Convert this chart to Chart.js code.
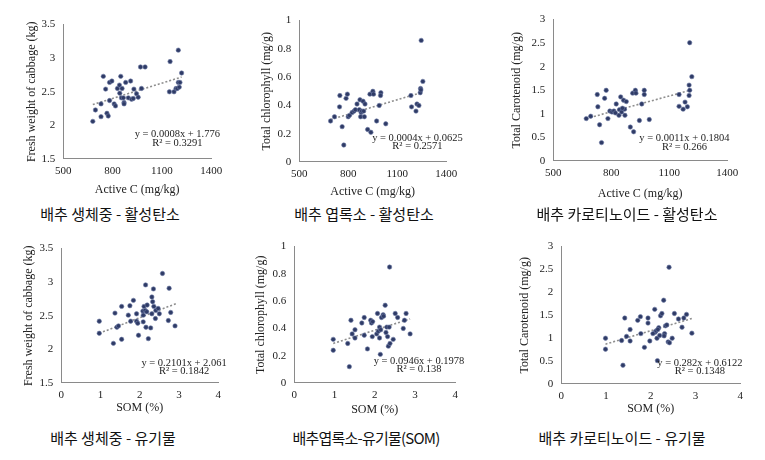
<!DOCTYPE html>
<html>
<head>
<meta charset="utf-8">
<script src="https://cdn.jsdelivr.net/npm/chart.js@4.4.1/dist/chart.umd.min.js"></script>
<style>
  body { margin: 0; background: #fff; width: 765px; height: 460px; position: relative; overflow: hidden; }
  .box { position: absolute; }
  .cap { position: absolute; font-family: "Noto Sans CJK KR"; font-size: 15px; font-weight: 400; color: #111; white-space: nowrap; transform: translateX(-50%); }
</style>
</head>
<body>
<script>
// ---- data ----
// active carbon (mg/kg) vs fresh weight
let p1x = [680,696,730,730,744,758,766,774,782,782,796,810,818,830,842,844,850,854,858,866,870,870,880,896,910,916,926,930,946,956,970,976,998,1146,1150,1174,1186,1194,1200,1200,1206,1210,1220];
let p1y = [2.06,2.23,2.32,2.13,2.73,2.54,2.18,2.14,2.37,2.64,2.66,2.32,2.29,2.55,2.60,2.48,2.73,2.41,2.55,2.41,2.34,2.32,2.64,2.41,2.66,2.39,2.40,2.54,2.47,2.42,2.87,2.55,2.87,2.50,2.95,2.50,2.55,2.55,3.12,2.64,2.57,2.64,2.78];
// active carbon vs chlorophyll
let p2x = [692,716,747,749,763,773,787,795,800,808,824,836,844,854,868,872,876,879,883,891,895,899,903,919,939,933,951,955,974,990,1000,998,1030,1188,1184,1215,1221,1233,1241,1243,1245,1247,1257];
let p2y = [0.29,0.32,0.39,0.47,0.25,0.12,0.45,0.48,0.32,0.33,0.35,0.36,0.37,0.41,0.37,0.44,0.32,0.35,0.36,0.43,0.36,0.32,0.41,0.23,0.21,0.48,0.50,0.48,0.29,0.40,0.49,0.47,0.27,0.39,0.47,0.36,0.41,0.40,0.49,0.52,0.51,0.86,0.57];
// active carbon vs carotenoid
let p3x = [671,694,728,731,740,750,766,774,783,793,804,814,826,840,843,849,854,864,869,871,878,899,916,911,925,928,946,958,971,971,997,1151,1151,1172,1182,1194,1203,1203,1206,1206,1217,858,822];
let p3y = [0.90,0.95,1.41,1.15,0.77,0.39,1.33,1.50,0.90,1.06,1.04,1.06,1.21,0.97,1.09,1.36,1.04,1.29,1.10,0.97,1.26,0.72,0.62,1.44,1.50,1.44,0.86,1.21,1.50,1.41,0.88,1.41,1.16,1.10,1.25,1.15,1.61,1.39,1.50,2.51,1.79,1.12,1.02];
// SOM (%) vs fresh weight
let p4x = [0.97,0.97,1.33,1.37,1.42,1.46,1.54,1.54,1.71,1.75,1.77,1.84,1.92,1.92,1.95,1.97,2.08,2.09,2.09,2.11,2.14,2.15,2.16,2.18,2.19,2.22,2.28,2.31,2.31,2.33,2.35,2.36,2.40,2.41,2.47,2.50,2.58,2.73,2.75,2.79,2.90];
let p4y = [2.42,2.24,2.09,2.54,2.33,2.35,2.64,2.15,2.51,2.65,2.42,2.73,2.53,2.42,2.39,2.21,2.57,2.51,2.41,2.64,2.58,2.96,2.33,2.56,2.66,2.16,2.32,2.78,2.53,2.71,2.90,2.64,2.46,2.58,2.61,2.53,3.13,2.43,2.91,2.55,2.35];
// SOM vs chlorophyll
let p5x = [0.97,0.97,1.33,1.37,1.41,1.44,1.51,1.51,1.68,1.74,1.74,1.82,1.90,1.92,1.94,1.95,2.05,2.07,2.09,2.12,2.12,2.14,2.15,2.17,2.21,2.22,2.26,2.28,2.30,2.32,2.34,2.36,2.37,2.38,2.46,2.51,2.57,2.71,2.74,2.78,2.88];
let p5y = [0.32,0.24,0.29,0.12,0.46,0.36,0.33,0.39,0.44,0.48,0.35,0.25,0.46,0.44,0.34,0.45,0.36,0.51,0.38,0.41,0.33,0.21,0.39,0.48,0.50,0.49,0.57,0.37,0.41,0.34,0.27,0.41,0.85,0.29,0.32,0.51,0.48,0.40,0.46,0.51,0.36];
// SOM vs carotenoid
let p6x = [0.99,0.99,1.35,1.38,1.42,1.46,1.54,1.54,1.71,1.77,1.78,1.86,1.94,1.94,1.98,2.09,2.10,2.14,2.15,2.18,2.20,2.22,2.25,2.29,2.31,2.33,2.36,2.39,2.41,2.42,2.48,2.53,2.62,2.70,2.74,2.80,2.92,2.12,2.16,2.30,2.05];
let p6y = [1.00,0.76,0.95,0.41,1.44,1.04,1.19,0.94,1.39,1.47,1.10,0.80,1.44,1.33,0.94,1.63,1.13,1.00,0.51,1.23,1.06,1.49,1.54,1.83,1.10,1.27,1.29,0.92,2.55,0.90,1.00,1.54,1.42,1.24,1.44,1.52,1.11,1.16,1.19,1.05,1.10];

// trendline end points (x0, y0, x1, y1)
let trend1 = [680, 2.31, 1220, 2.72];
let trend2 = [692, 0.30, 1245, 0.49];
let trend3 = [671, 0.90, 1217, 1.51];
let trend4 = [0.97, 2.24, 2.92, 2.68];
let trend5 = [0.97, 0.29, 2.88, 0.47];
let trend6 = [0.99, 0.87, 2.92, 1.43];

let equations = [
  ['y = 0.0008x + 1.776', 'R² = 0.3291'],
  ['y = 0.0004x + 0.0625', 'R² = 0.2571'],
  ['y = 0.0011x + 0.1804', 'R² = 0.266'],
  ['y = 0.2101x + 2.061', 'R² = 0.1842'],
  ['y = 0.0946x + 0.1978', 'R² = 0.138'],
  ['y = 0.282x + 0.6122', 'R² = 0.1348']
];

let ticksActiveC = [500, 800, 1100, 1400];
let ticksSom = [0, 1, 2, 3, 4];
let ticksWeight = [1.5, 2, 2.5, 3, 3.5];
let ticksChl = [0, 0.2, 0.4, 0.6, 0.8, 1];
let ticksCar = [0, 0.5, 1, 1.5, 2, 2.5, 3];

let captions = [
  '배추 생체중 - 활성탄소', '배추 엽록소 - 활성탄소', '배추 카로티노이드 - 활성탄소',
  '배추 생체중 - 유기물', '배추엽록소-유기물(SOM)', '배추 카로티노이드 - 유기물'
];

// ---- layout of the six panels (plot area in page pixels) ----
let panels = [
  { xs: p1x, ys: p1y, tr: trend1, xt: ticksActiveC, yt: ticksWeight, xTitle: 'Active C (mg/kg)', yTitle: 'Fresh weight of cabbage (kg)',
    area: [63, 18, 212, 159], yOff: 31, xOff: 31, eq: [1194, 1.87, 1.74] },
  { xs: p2x, ys: p2y, tr: trend2, xt: ticksActiveC, yt: ticksChl, xTitle: 'Active C (mg/kg)', yTitle: 'Total chlorophyll (mg/g)',
    area: [299, 14, 447, 162], yOff: 32, xOff: 30, eq: [1224, 0.17, 0.11] },
  { xs: p3x, ys: p3y, tr: trend3, xt: ticksActiveC, yt: ticksCar, xTitle: 'Active C (mg/kg)', yTitle: 'Total Carotenoid (mg/g)',
    area: [553, 13, 728, 161], yOff: 36, xOff: 33, eq: [1179, 0.48, 0.30] },
  { xs: p4x, ys: p4y, tr: trend4, xt: ticksSom, yt: ticksWeight, xTitle: 'SOM (%)', yTitle: 'Fresh weight of cabbage (kg)',
    area: [61, 242, 218, 383], yOff: 32, xOff: 25, eq: [3.13, 1.80, 1.68] },
  { xs: p5x, ys: p5y, tr: trend5, xt: ticksSom, yt: ticksChl, xTitle: 'SOM (%)', yTitle: 'Total chlorophyll (mg/g)',
    area: [294, 240, 455, 383], yOff: 33, xOff: 27, eq: [3.1, 0.16, 0.10] },
  { xs: p6x, ys: p6y, tr: trend6, xt: ticksSom, yt: ticksCar, xTitle: 'SOM (%)', yTitle: 'Total Carotenoid (mg/g)',
    area: [561, 240, 740, 384], yOff: 36, xOff: 25, eq: [3.1, 0.46, 0.27] }
];
let capPos = [[110, 203], [364, 203], [627, 203], [113, 427], [366, 427], [622, 427]];

const serif = 'Liberation Serif';
const padTop = 8, padRight = 16;

// writes the regression equation on the plot
const eqPlugin = {
  id: 'eq',
  afterDatasetsDraw(chart, args, opts) {
    const ctx = chart.ctx;
    const xs = chart.scales.x, ys = chart.scales.y;
    ctx.save();
    ctx.font = '10.5px "' + serif + '"';
    ctx.fillStyle = '#222';
    ctx.textAlign = 'center';
    ctx.textBaseline = 'middle';
    ctx.fillText(opts.lines[0], xs.getPixelForValue(opts.pos[0]), ys.getPixelForValue(opts.pos[1]));
    ctx.fillText(opts.lines[1], xs.getPixelForValue(opts.pos[0]), ys.getPixelForValue(opts.pos[2]));
    ctx.restore();
  }
};

panels.forEach(function(p, i) {
  let W = p.yOff + 11.2;
  let H = p.xOff + 11.2;
  let a = p.area;
  let box = document.createElement('div');
  box.className = 'box';
  box.style.left = (a[0] - W) + 'px';
  box.style.top = (a[1] - padTop) + 'px';
  box.style.width = (W + a[2] - a[0] + padRight) + 'px';
  box.style.height = (padTop + a[3] - a[1] + H) + 'px';
  let cv = document.createElement('canvas');
  box.appendChild(cv);
  document.body.appendChild(box);

  let pts = p.xs.map((x, k) => ({ x: x, y: p.ys[k] }));
  let xt = p.xt, yt = p.yt;

  new Chart(cv, {
    type: 'scatter',
    data: {
      datasets: [{
        data: pts,
        backgroundColor: '#2f3b66',
        borderColor: '#6e7ca6',
        borderWidth: 0.6,
        pointRadius: 2.2
      }, {
        data: [{ x: p.tr[0], y: p.tr[1] }, { x: p.tr[2], y: p.tr[3] }],
        showLine: true,
        borderColor: '#8e8e8e',
        borderWidth: 1.6,
        borderDash: [2, 2],
        pointRadius: 0
      }]
    },
    options: {
      responsive: true,
      maintainAspectRatio: false,
      animation: false,
      layout: { padding: { top: padTop, right: padRight, left: 0, bottom: 0 } },
      plugins: {
        legend: { display: false },
        tooltip: { enabled: false },
        eq: { lines: equations[i], pos: p.eq }
      },
      scales: {
        x: {
          type: 'linear',
          min: xt[0], max: xt[xt.length - 1],
          afterBuildTicks: s => { s.ticks = xt.map(v => ({ value: v })); },
          afterFit: s => { s.height = H; },
          grid: { display: false, drawTicks: false },
          border: { display: true, color: '#8a8a8a', width: 1 },
          ticks: { padding: 6, color: '#222', font: { family: serif, size: 11 }, maxRotation: 0, callback: v => String(v) },
          title: { display: true, text: p.xTitle, color: '#222', font: { family: serif, size: 12 }, padding: 4 }
        },
        y: {
          type: 'linear',
          min: yt[0], max: yt[yt.length - 1],
          afterBuildTicks: s => { s.ticks = yt.map(v => ({ value: v })); },
          afterFit: s => { s.width = W; },
          grid: { display: false, drawTicks: false },
          border: { display: true, color: '#8a8a8a', width: 1 },
          ticks: { padding: 8, color: '#222', font: { family: serif, size: 11 }, callback: v => String(v) },
          title: { display: true, text: p.yTitle, color: '#222', font: { family: serif, size: 12 }, padding: 4 }
        }
      }
    },
    plugins: [eqPlugin]
  });
});

captions.forEach(function(t, i) {
  let d = document.createElement('div');
  d.className = 'cap';
  d.textContent = t;
  d.style.left = capPos[i][0] + 'px';
  d.style.top = capPos[i][1] + 'px';
  if (i === 4) d.style.letterSpacing = '-0.8px';
  document.body.appendChild(d);
});
</script>
</body>
</html>
